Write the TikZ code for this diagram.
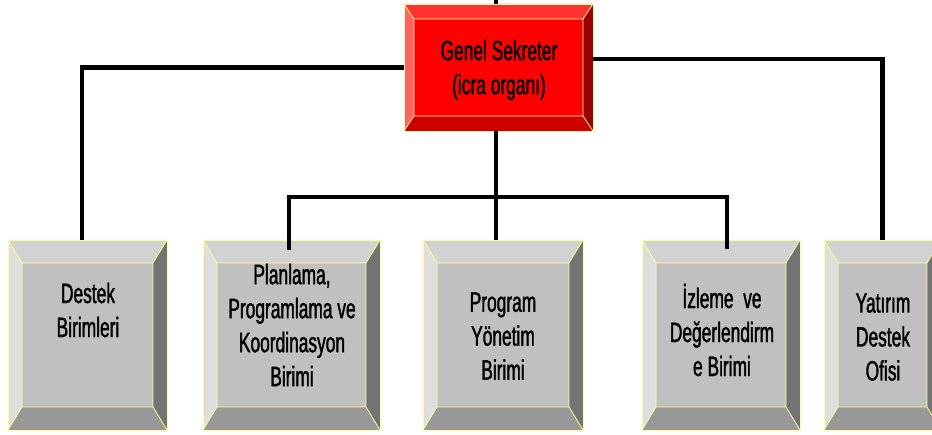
\documentclass[tikz,border=0pt]{standalone}
\usepackage{fontspec}
\setmainfont{Liberation Sans}[FakeStretch=0.62,FakeBold=1.3]
\usepackage{tikz}
\usetikzlibrary{positioning,calc}
\usepackage{xcolor}
\definecolor{chiefface}{RGB}{255, 0, 0}
\definecolor{chiefleft}{RGB}{255, 100, 100}
\definecolor{chieftop}{RGB}{255, 50, 50}
\definecolor{chiefright}{RGB}{150, 0, 0}
\definecolor{chiefbottom}{RGB}{205, 0, 0}
\definecolor{unitface}{RGB}{192, 192, 192}
\definecolor{unitleft}{RGB}{222, 222, 222}
\definecolor{unittop}{RGB}{210, 210, 210}
\definecolor{unitright}{RGB}{115, 115, 115}
\definecolor{unitbottom}{RGB}{152, 152, 152}
\definecolor{rimyellow}{RGB}{255, 255, 150}

% bevel faces of a box: dx, dy, left, top, right, bottom
\newcommand{\bevelfaces}[6]{%
  \path (path picture bounding box.north west) coordinate (o1)
        (path picture bounding box.north east) coordinate (o2)
        (path picture bounding box.south east) coordinate (o3)
        (path picture bounding box.south west) coordinate (o4)
        ([xshift=#1,yshift=-#2]o1) coordinate (i1)
        ([xshift=-#1,yshift=-#2]o2) coordinate (i2)
        ([xshift=-#1,yshift=#2]o3) coordinate (i3)
        ([xshift=#1,yshift=#2]o4) coordinate (i4);
  \fill[#3] (o1) -- (i1) -- (i4) -- (o4) -- cycle;
  \fill[#4] (o1) -- (o2) -- (i2) -- (i1) -- cycle;
  \fill[#5] (o2) -- (o3) -- (i3) -- (i2) -- cycle;
  \fill[#6] (o4) -- (o3) -- (i3) -- (i4) -- cycle;
  \draw[rimyellow, line width=0.8pt] (i1) rectangle (i3)
        (o1) -- (i1) (o2) -- (i2) (o3) -- (i3) (o4) -- (i4);
}

\begin{document}
\begin{tikzpicture}[
    x=1pt, y=-1pt,
    chief/.style={draw=rimyellow, line width=0.8pt, fill=chiefface, inner sep=0pt,
        minimum width=189pt, minimum height=127pt,
        path picture={\bevelfaces{10pt}{15pt}{chiefleft}{chieftop}{chiefright}{chiefbottom}}},
    unit/.style={draw=rimyellow, line width=0.8pt, fill=unitface, inner sep=0pt,
        minimum height=190pt,
        path picture={\bevelfaces{14pt}{23pt}{unitleft}{unittop}{unitright}{unitbottom}}},
    unittext/.style={align=center, inner sep=0pt, font=\fontsize{28}{34}\selectfont},
    link/.style={line width=4.5pt, black}
]
    \useasboundingbox (0,0) rectangle (932,435);

    \node[chief] (gs) at (498.5,67.5) {};
    \node[unit, minimum width=159pt] (destek) at (87.5,335) {};
    \node[unit, minimum width=177pt] (plan) at (291.5,335) {};
    \node[unit, minimum width=160pt] (prog) at (503,335) {};
    \node[unit, minimum width=158pt] (izleme) at (721,335) {};
    \node[unit, minimum width=117pt] (yatirim) at (882.5,335) {};

    \node[unittext] (gstext) at (499,70) {Genel Sekreter\\(icra organı)};
    \node[unittext] (destektext) at (88,310) {Destek\\Birimleri};
    \node[unittext] (plantext) at (292,325) {Planlama,\\Programlama ve\\Koordinasyon\\Birimi};
    \node[unittext] (progtext) at (503,336) {Program\\Yönetim\\Birimi};
    \node[unittext] (izlemetext) at (722,330) {İzleme~ ve\\Değerlendirm\\e Birimi};
    \node[unittext] (yatirimtext) at (883,337) {Yatırım\\Destek\\Ofisi};

    \coordinate (stub) at (496,0);
    \coordinate (hub) at (496,197);

    \draw[link] (stub) -- (stub |- gs.north);
    \draw[link] (gs.west) -| ([xshift=-5.5pt]destek.north);
    \draw[link] ([yshift=8.5pt]gs.east) -| (yatirim.north);
    \draw[link] (hub |- gs.south) -- (hub) -- (hub |- prog.north);
    \draw[link] ([xshift=-2.5pt,yshift=-10pt]plan.north) |- (hub) -| ([xshift=6pt,yshift=-9pt]izleme.north);
\end{tikzpicture}
\end{document}
